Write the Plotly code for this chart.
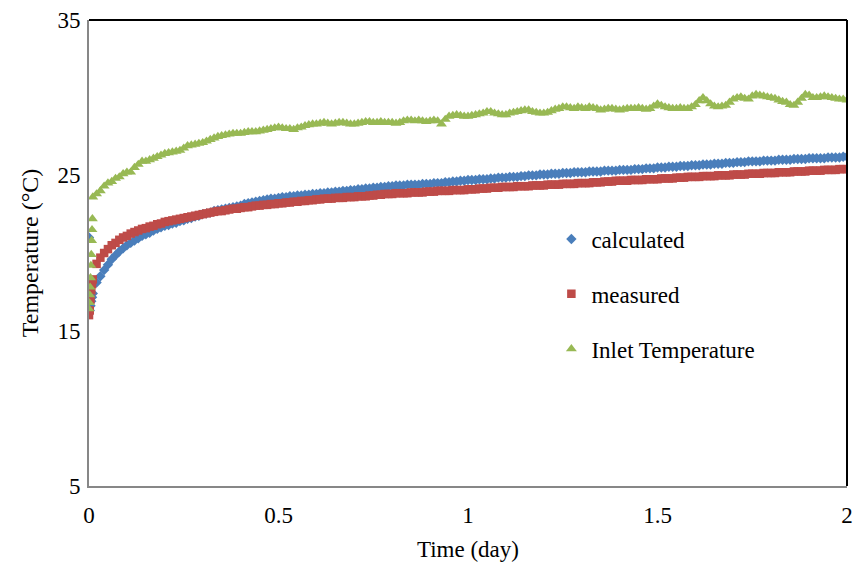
import plotly.graph_objects as go

# ---- data ----
time_day = [0.000, 0.002, 0.004, 0.006, 0.008,
            0.01, 0.02, 0.03, 0.04, 0.05, 0.06, 0.07, 0.08, 0.09, 0.10,
            0.11, 0.12, 0.13, 0.14, 0.15, 0.16, 0.17, 0.18, 0.19, 0.20,
            0.21, 0.22, 0.23, 0.24, 0.25, 0.26, 0.27, 0.28, 0.29, 0.30,
            0.31, 0.32, 0.33, 0.34, 0.35, 0.36, 0.37, 0.38, 0.39, 0.40,
            0.41, 0.42, 0.43, 0.44, 0.45, 0.46, 0.47, 0.48, 0.49, 0.50,
            0.51, 0.52, 0.53, 0.54, 0.55, 0.56, 0.57, 0.58, 0.59, 0.60,
            0.61, 0.62, 0.63, 0.64, 0.65, 0.66, 0.67, 0.68, 0.69, 0.70,
            0.71, 0.72, 0.73, 0.74, 0.75, 0.76, 0.77, 0.78, 0.79, 0.80,
            0.81, 0.82, 0.83, 0.84, 0.85, 0.86, 0.87, 0.88, 0.89, 0.90,
            0.91, 0.92, 0.93, 0.94, 0.95, 0.96, 0.97, 0.98, 0.99, 1.00,
            1.01, 1.02, 1.03, 1.04, 1.05, 1.06, 1.07, 1.08, 1.09, 1.10,
            1.11, 1.12, 1.13, 1.14, 1.15, 1.16, 1.17, 1.18, 1.19, 1.20,
            1.21, 1.22, 1.23, 1.24, 1.25, 1.26, 1.27, 1.28, 1.29, 1.30,
            1.31, 1.32, 1.33, 1.34, 1.35, 1.36, 1.37, 1.38, 1.39, 1.40,
            1.41, 1.42, 1.43, 1.44, 1.45, 1.46, 1.47, 1.48, 1.49, 1.50,
            1.51, 1.52, 1.53, 1.54, 1.55, 1.56, 1.57, 1.58, 1.59, 1.60,
            1.61, 1.62, 1.63, 1.64, 1.65, 1.66, 1.67, 1.68, 1.69, 1.70,
            1.71, 1.72, 1.73, 1.74, 1.75, 1.76, 1.77, 1.78, 1.79, 1.80,
            1.81, 1.82, 1.83, 1.84, 1.85, 1.86, 1.87, 1.88, 1.89, 1.90,
            1.91, 1.92, 1.93, 1.94, 1.95, 1.96, 1.97, 1.98, 1.99, 2.00]

calculated = [21.0, 16.3, 16.6, 16.9, 17.15,
              17.4, 18.1, 18.5, 18.9, 19.25, 19.6, 19.85, 20.1, 20.3, 20.5,
              20.65, 20.8, 20.95, 21.1, 21.2, 21.3, 21.45, 21.55, 21.65, 21.75,
              21.8, 21.9, 21.95, 22.05, 22.1, 22.2, 22.25, 22.35, 22.4, 22.5,
              22.55, 22.6, 22.7, 22.75, 22.8, 22.85, 22.9, 22.95, 23.0, 23.05,
              23.15, 23.2, 23.25, 23.3, 23.35, 23.4, 23.45, 23.5, 23.5, 23.55,
              23.6, 23.6, 23.65, 23.65, 23.7, 23.7, 23.75, 23.75, 23.8, 23.8,
              23.85, 23.85, 23.9, 23.9, 23.95, 23.95, 24.0, 24.0, 24.05, 24.05,
              24.1, 24.1, 24.15, 24.15, 24.2, 24.2, 24.25, 24.25, 24.3, 24.3,
              24.35, 24.35, 24.35, 24.4, 24.4, 24.4, 24.4, 24.45, 24.45, 24.45,
              24.5, 24.5, 24.5, 24.55, 24.55, 24.6, 24.6, 24.65, 24.65, 24.7,
              24.7, 24.7, 24.75, 24.75, 24.75, 24.8, 24.8, 24.85, 24.85, 24.85,
              24.9, 24.9, 24.9, 24.95, 24.95, 25.0, 25.0, 25.0, 25.05, 25.05,
              25.05, 25.1, 25.1, 25.1, 25.15, 25.15, 25.15, 25.2, 25.2, 25.2,
              25.2, 25.25, 25.25, 25.25, 25.25, 25.3, 25.3, 25.3, 25.3, 25.35,
              25.35, 25.35, 25.35, 25.4, 25.4, 25.4, 25.45, 25.45, 25.45, 25.5,
              25.5, 25.5, 25.55, 25.55, 25.55, 25.6, 25.6, 25.6, 25.65, 25.65,
              25.65, 25.7, 25.7, 25.7, 25.75, 25.75, 25.75, 25.8, 25.8, 25.8,
              25.85, 25.85, 25.85, 25.9, 25.9, 25.9, 25.9, 25.95, 25.95, 25.95,
              25.95, 26.0, 26.0, 26.0, 26.0, 26.05, 26.05, 26.05, 26.05, 26.1,
              26.1, 26.1, 26.1, 26.1, 26.15, 26.15, 26.15, 26.15, 26.2, 26.2]

measured = [16.0, 16.3, 17.0, 17.6, 18.0,
            18.3, 19.3, 19.7, 20.0, 20.25, 20.5, 20.65, 20.85, 21.0, 21.1,
            21.25, 21.35, 21.45, 21.55, 21.6, 21.7, 21.75, 21.85, 21.9, 22.0,
            22.05, 22.1, 22.15, 22.2, 22.25, 22.3, 22.35, 22.4, 22.45, 22.5,
            22.55, 22.6, 22.65, 22.7, 22.7, 22.75, 22.8, 22.85, 22.85, 22.9,
            22.95, 22.95, 23.0, 23.05, 23.05, 23.1, 23.1, 23.15, 23.15, 23.2,
            23.2, 23.25, 23.25, 23.3, 23.3, 23.35, 23.35, 23.4, 23.4, 23.45,
            23.45, 23.5, 23.5, 23.5, 23.55, 23.55, 23.55, 23.6, 23.6, 23.6,
            23.65, 23.65, 23.65, 23.7, 23.7, 23.75, 23.75, 23.8, 23.8, 23.8,
            23.85, 23.85, 23.85, 23.85, 23.9, 23.9, 23.9, 23.9, 23.95, 23.95,
            23.95, 24.0, 24.0, 24.0, 24.0, 24.05, 24.05, 24.05, 24.05, 24.1,
            24.1, 24.1, 24.15, 24.15, 24.15, 24.2, 24.2, 24.2, 24.25, 24.25,
            24.25, 24.25, 24.3, 24.3, 24.3, 24.3, 24.35, 24.35, 24.35, 24.35,
            24.4, 24.4, 24.4, 24.4, 24.45, 24.45, 24.45, 24.45, 24.5, 24.5,
            24.5, 24.5, 24.55, 24.55, 24.55, 24.6, 24.6, 24.6, 24.65, 24.65,
            24.65, 24.65, 24.7, 24.7, 24.7, 24.7, 24.75, 24.75, 24.75, 24.75,
            24.8, 24.8, 24.8, 24.8, 24.85, 24.85, 24.85, 24.9, 24.9, 24.9,
            24.9, 24.95, 24.95, 24.95, 24.95, 25.0, 25.0, 25.0, 25.0, 25.05,
            25.05, 25.05, 25.05, 25.1, 25.1, 25.1, 25.1, 25.15, 25.15, 25.15,
            25.15, 25.2, 25.2, 25.2, 25.2, 25.25, 25.25, 25.25, 25.25, 25.3,
            25.3, 25.3, 25.3, 25.35, 25.35, 25.35, 25.35, 25.4, 25.4, 25.4]

inlet_time = [0.000, 0.001, 0.002, 0.003, 0.004, 0.005, 0.006, 0.007, 0.008, 0.009,
              0.01, 0.02, 0.03, 0.04, 0.05, 0.06, 0.07, 0.08, 0.09, 0.10,
              0.11, 0.12, 0.13, 0.14, 0.15, 0.16, 0.17, 0.18, 0.19, 0.20,
              0.21, 0.22, 0.23, 0.24, 0.25, 0.26, 0.27, 0.28, 0.29, 0.30,
              0.31, 0.32, 0.33, 0.34, 0.35, 0.36, 0.37, 0.38, 0.39, 0.40,
              0.41, 0.42, 0.43, 0.44, 0.45, 0.46, 0.47, 0.48, 0.49, 0.50,
              0.51, 0.52, 0.53, 0.54, 0.55, 0.56, 0.57, 0.58, 0.59, 0.60,
              0.61, 0.62, 0.63, 0.64, 0.65, 0.66, 0.67, 0.68, 0.69, 0.70,
              0.71, 0.72, 0.73, 0.74, 0.75, 0.76, 0.77, 0.78, 0.79, 0.80,
              0.81, 0.82, 0.83, 0.84, 0.85, 0.86, 0.87, 0.88, 0.89, 0.90,
              0.91, 0.92, 0.93, 0.94, 0.95, 0.96, 0.97, 0.98, 0.99, 1.00,
              1.01, 1.02, 1.03, 1.04, 1.05, 1.06, 1.07, 1.08, 1.09, 1.10,
              1.11, 1.12, 1.13, 1.14, 1.15, 1.16, 1.17, 1.18, 1.19, 1.20,
              1.21, 1.22, 1.23, 1.24, 1.25, 1.26, 1.27, 1.28, 1.29, 1.30,
              1.31, 1.32, 1.33, 1.34, 1.35, 1.36, 1.37, 1.38, 1.39, 1.40,
              1.41, 1.42, 1.43, 1.44, 1.45, 1.46, 1.47, 1.48, 1.49, 1.50,
              1.51, 1.52, 1.53, 1.54, 1.55, 1.56, 1.57, 1.58, 1.59, 1.60,
              1.61, 1.62, 1.63, 1.64, 1.65, 1.66, 1.67, 1.68, 1.69, 1.70,
              1.71, 1.72, 1.73, 1.74, 1.75, 1.76, 1.77, 1.78, 1.79, 1.80,
              1.81, 1.82, 1.83, 1.84, 1.85, 1.86, 1.87, 1.88, 1.89, 1.90,
              1.91, 1.92, 1.93, 1.94, 1.95, 1.96, 1.97, 1.98, 1.99, 2.00]

inlet = [16.4, 16.8, 17.3, 17.8, 18.4, 19.2, 19.9, 20.8, 21.5, 22.2,
         23.6, 23.8, 24.0, 24.3, 24.5, 24.6, 24.8, 24.9, 25.1, 25.2,
         25.2, 25.5, 25.7, 25.9, 25.9, 26.0, 26.1, 26.2, 26.3, 26.4,
         26.45, 26.5, 26.55, 26.6, 26.75, 26.9, 26.95, 27.0, 27.05, 27.1,
         27.2, 27.3, 27.4, 27.5, 27.55, 27.6, 27.65, 27.7, 27.7, 27.7,
         27.75, 27.8, 27.8, 27.8, 27.85, 27.9, 27.95, 28.0, 28.05, 28.1,
         28.05, 28.0, 28.0, 27.95, 28.05, 28.1, 28.2, 28.25, 28.3, 28.3,
         28.35, 28.4, 28.35, 28.3, 28.35, 28.4, 28.4, 28.35, 28.3, 28.3,
         28.35, 28.4, 28.45, 28.45, 28.4, 28.4, 28.45, 28.4, 28.4, 28.4,
         28.35, 28.4, 28.5, 28.55, 28.55, 28.5, 28.55, 28.5, 28.45, 28.5,
         28.55, 28.5, 28.3, 28.6, 28.8, 28.85, 28.9, 28.85, 28.8, 28.8,
         28.85, 28.9, 28.95, 29.0, 29.1, 29.1, 29.0, 28.95, 28.9, 28.9,
         29.0, 29.05, 29.1, 29.15, 29.2, 29.2, 29.1, 29.05, 29.0, 29.0,
         29.05, 29.15, 29.25, 29.3, 29.4, 29.4, 29.35, 29.3, 29.4, 29.35,
         29.3, 29.4, 29.35, 29.3, 29.2, 29.25, 29.3, 29.3, 29.25, 29.2,
         29.25, 29.3, 29.3, 29.3, 29.35, 29.3, 29.25, 29.3, 29.45, 29.6,
         29.5, 29.4, 29.35, 29.3, 29.3, 29.35, 29.3, 29.3, 29.4, 29.55,
         29.8, 30.0, 29.8, 29.6, 29.45, 29.4, 29.45, 29.5, 29.7, 29.9,
         30.0, 30.05, 29.95, 29.9, 30.1, 30.2, 30.15, 30.1, 30.05, 30.0,
         29.95, 29.85, 29.75, 29.7, 29.55, 29.5, 29.7, 29.95, 30.2, 30.15,
         30.0, 30.0, 30.05, 30.1, 30.05, 30.0, 29.95, 29.9, 29.9, 29.85]

x_ticks = [0, 0.5, 1, 1.5, 2]
x_tick_text = ["0", "0.5", "1", "1.5", "2"]
y_ticks = [5, 15, 25, 35]

BLUE = "#4A7EBB"
RED = "#BE4B48"
GREEN = "#98B954"
FONT = "Liberation Serif"

fig = go.Figure()
fig.add_trace(go.Scatter(x=time_day, y=calculated, mode="markers", name="calculated",
                         legendgroup="a",
                         marker=dict(symbol="diamond", size=8, color=BLUE)))
fig.add_trace(go.Scatter(x=time_day, y=measured, mode="markers", name="measured",
                         legendgroup="b",
                         marker=dict(symbol="square", size=8.5, color=RED)))
fig.add_trace(go.Scatter(x=inlet_time, y=inlet, mode="markers", name="Inlet Temperature",
                         legendgroup="c",
                         marker=dict(symbol="triangle-up", size=9.5, color=GREEN)))

fig.update_layout(
    width=854, height=568,
    margin=dict(l=89, r=7, t=20, b=82, autoexpand=False),
    paper_bgcolor="white", plot_bgcolor="white",
    font=dict(family=FONT, size=23, color="black"),
    showlegend=True,
    legend=dict(x=0.61, y=0.412, xanchor="left", yanchor="middle",
                bgcolor="rgba(0,0,0,0)", traceorder="grouped",
                tracegroupgap=22,
                font=dict(family=FONT, size=23)),
    xaxis=dict(range=[0, 2], tickvals=x_ticks, ticktext=x_tick_text,
               showgrid=False, zeroline=False, showline=True, automargin=False,
               linecolor="#878787", linewidth=2, ticks="",
               ticklabelstandoff=7,
               title=dict(text="Time (day)", standoff=14, font=dict(size=23))),
    yaxis=dict(range=[5, 35], tickvals=y_ticks,
               showgrid=False, zeroline=False, showline=True, automargin=False,
               linecolor="#878787", linewidth=2, ticks="",
               ticklabelstandoff=2,
               title=dict(text="Temperature (°C)", standoff=12, font=dict(size=24))),
    shapes=[
        dict(type="line", xref="paper", yref="paper", x0=0, x1=1, y0=1, y1=1,
             line=dict(color="black", width=2)),
        dict(type="line", xref="paper", yref="paper", x0=1, x1=1, y0=0, y1=1,
             line=dict(color="black", width=2)),
    ],
)

fig.write_html("out.html", config={"displayModeBar": False},
               post_script="document.body.style.margin='0';")
